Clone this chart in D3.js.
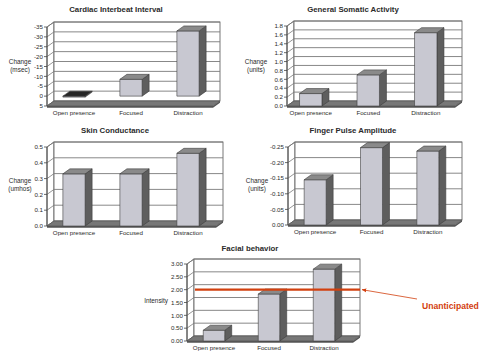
<!DOCTYPE html>
<html><head><meta charset="utf-8">
<script src="https://cdn.jsdelivr.net/npm/d3@7/dist/d3.min.js"></script>
<style>
html,body{margin:0;padding:0;background:#fff;}
svg{display:block;font-family:"Liberation Sans",Arial,sans-serif;}
</style></head><body>
<svg id="chart" width="487" height="352"></svg>
<script>
// Conditions shared by every panel
const categories = ["Open presence", "Focused", "Distraction"];

// Mean change per condition
const cardiacValues = [0.5, -8.5, -33];
const somaticValues = [0.28, 0.7, 1.65];
const skinValues = [0.33, 0.33, 0.46];
const fingerValues = [-0.145, -0.248, -0.237];
const facialValues = [0.42, 1.83, 2.8];

// Value-axis ticks, listed from the floor upwards
const cardiacTicks = [5, 0, -5, -10, -15, -20, -25, -30, -35];
const somaticTicks = [0, 0.2, 0.4, 0.6, 0.8, 1.0, 1.2, 1.4, 1.6, 1.8];
const skinTicks = [0, 0.1, 0.2, 0.3, 0.4, 0.5];
const fingerTicks = [0, -0.05, -0.10, -0.15, -0.20, -0.25];
const facialTicks = [0, 0.5, 1.0, 1.5, 2.0, 2.5, 3.0];

const titles = ["Cardiac Interbeat Interval", "General Somatic Activity", "Skin Conductance", "Finger Pulse Amplitude", "Facial behavior"];
const axisTitles = [["Change", "(msec)"], ["Change", "(units)"], ["Change", "(umhos)"], ["Change", "(units)"], ["Intensity"]];
const tickDecimals = [0, 1, 1, 2, 2];

const unanticipatedLevel = 2.0;
const unanticipatedLabel = "Unanticipated";

// Panel placement
const layout = [
  {x0: 47,  x1: 213, yTop: 27,  yBot: 106, band: [45.5, 216.5], tx: 116, ty: 12,  ax: 20,  ay: 64},
  {x0: 287, x1: 455, yTop: 26,  yBot: 106, band: [282, 454.5],  tx: 353, ty: 12,  ax: 256, ay: 64},
  {x0: 47,  x1: 216, yTop: 147, yBot: 226, band: [45.5, 216.5], tx: 115, ty: 133, ax: 20,  ay: 183},
  {x0: 288, x1: 455, yTop: 147, yBot: 225, band: [287, 456],    tx: 353, ty: 133, ax: 257, ay: 183},
  {x0: 187, x1: 353, yTop: 264, yBot: 341, band: [186.5, 351.5], tx: 250, ty: 251, ax: 168, ay: 303}
];
const seriesValues = [cardiacValues, somaticValues, skinValues, fingerValues, facialValues];
const seriesTicks = [cardiacTicks, somaticTicks, skinTicks, fingerTicks, facialTicks];

const DX = 7, DY = 5;            // oblique depth of the 3-D box
const TEXT = "#2b2b2b";
const GRID = "#7a7a7a";

const svg = d3.select("#chart");
const pts = a => a.map(p => p.join(",")).join(" ");

function drawPanel(i) {
  const L = layout[i], values = seriesValues[i], ticks = seriesTicks[i];
  const g = svg.append("g");
  const y = d3.scaleLinear().domain([ticks[0], ticks[ticks.length - 1]]).range([L.yBot, L.yTop]);
  const x = d3.scaleBand().domain(categories).range(L.band).paddingInner(0.61).paddingOuter(0.305);

  // title
  g.append("text").attr("x", L.tx).attr("y", L.ty).attr("text-anchor", "middle")
    .attr("font-size", 7.8).attr("font-weight", "bold").attr("fill", TEXT).text(titles[i]);

  // side wall and back wall
  g.append("polygon").attr("points", pts([[L.x0, L.yBot], [L.x0, L.yTop], [L.x0 + DX, L.yTop - DY], [L.x0 + DX, L.yBot - DY]]))
    .attr("fill", "#fff").attr("stroke", "#555").attr("stroke-width", 0.8);
  g.append("rect").attr("x", L.x0 + DX).attr("y", L.yTop - DY).attr("width", L.x1 - L.x0).attr("height", L.yBot - L.yTop)
    .attr("fill", "#fff").attr("stroke", "#555").attr("stroke-width", 0.8);

  // gridlines on back and side walls
  ticks.forEach(t => {
    const yy = y(t);
    g.append("line").attr("x1", L.x0 + DX).attr("x2", L.x1 + DX).attr("y1", yy - DY).attr("y2", yy - DY)
      .attr("stroke", GRID).attr("stroke-width", 0.9);
    g.append("line").attr("x1", L.x0).attr("x2", L.x0 + DX).attr("y1", yy).attr("y2", yy - DY)
      .attr("stroke", GRID).attr("stroke-width", 0.8);
    g.append("line").attr("x1", L.x0 - 3).attr("x2", L.x0).attr("y1", yy).attr("y2", yy)
      .attr("stroke", "#444").attr("stroke-width", 0.8);
    g.append("text").attr("x", L.x0 - 4).attr("y", yy + 2.2).attr("text-anchor", "end")
      .attr("font-size", 6.2).attr("fill", TEXT).text(t.toFixed(tickDecimals[i]));
  });
  g.append("line").attr("x1", L.x0).attr("x2", L.x0).attr("y1", L.yTop).attr("y2", L.yBot)
    .attr("stroke", "#444").attr("stroke-width", 0.9);

  // floor slab
  g.append("polygon").attr("points", pts([[L.x0, L.yBot], [L.x1, L.yBot], [L.x1 + DX, L.yBot - DY], [L.x0 + DX, L.yBot - DY]]))
    .attr("fill", "#777").attr("stroke", "#4a4a4a").attr("stroke-width", 0.5);
  g.append("polygon").attr("points", pts([[L.x0, L.yBot], [L.x1, L.yBot], [L.x1 + DX, L.yBot - DY], [L.x1 + DX, L.yBot - DY + 1.8], [L.x1, L.yBot + 1.8], [L.x0, L.yBot + 1.8]]))
    .attr("fill", "#555");

  // axis title
  axisTitles[i].forEach((s, k) => {
    g.append("text").attr("x", L.ax).attr("y", L.ay + k * 8).attr("text-anchor", i === 4 ? "end" : "middle")
      .attr("font-size", 6.4).attr("fill", TEXT).text(s);
  });

  // category labels
  categories.forEach(c => {
    g.append("text").attr("x", x(c) + x.bandwidth() / 2).attr("y", L.yBot + 8.5).attr("text-anchor", "middle")
      .attr("font-size", 6.2).attr("fill", TEXT).text(c);
  });

  // 3-D columns
  const base = y(0);
  categories.forEach((c, k) => {
    const v = values[k], bx = x(c), bw = x.bandwidth();
    const top = y(v);
    const up = top <= base;
    const y1 = Math.min(top, base), y2 = Math.max(top, base);
    const bg = g.append("g").attr("stroke", "#3e3e3e").attr("stroke-width", 0.6).attr("stroke-linejoin", "round");
    bg.append("polygon").attr("points", pts([[bx + bw, y1], [bx + bw + DX, y1 - DY], [bx + bw + DX, y2 - DY], [bx + bw, y2]]))
      .attr("fill", "#5e5e5e");
    bg.append("rect").attr("x", bx).attr("y", y1).attr("width", bw).attr("height", y2 - y1).attr("fill", "#c8c8d1");
    bg.append("polygon").attr("points", pts([[bx, y1], [bx + DX, y1 - DY], [bx + bw + DX, y1 - DY], [bx + bw, y1]]))
      .attr("fill", up ? "#8a8a8a" : "#262626");
  });

  return {g, y, L};
}

const drawn = layout.map((_, i) => drawPanel(i));

// threshold line on facial behavior
const F = drawn[4];
const ly = F.y(unanticipatedLevel);
const red = "#d2400f";
F.g.append("line").attr("x1", F.L.x0 + 8).attr("x2", F.L.x1 + DX).attr("y1", ly).attr("y2", ly)
  .attr("stroke", red).attr("stroke-width", 2.4);

svg.append("defs").append("marker").attr("id", "head").attr("viewBox", "0 0 10 10")
  .attr("refX", 9).attr("refY", 5).attr("markerWidth", 6).attr("markerHeight", 6).attr("orient", "auto")
  .append("path").attr("d", "M0,1 L10,5 L0,9 Z").attr("fill", red);
svg.append("line").attr("x1", 417).attr("y1", 299).attr("x2", F.L.x1 + DX + 2).attr("y2", ly)
  .attr("stroke", red).attr("stroke-width", 0.8).attr("marker-end", "url(#head)");
svg.append("text").attr("x", 422).attr("y", 309).attr("font-size", 8.6).attr("font-weight", "bold")
  .attr("fill", red).text(unanticipatedLabel);
</script>
</body></html>
